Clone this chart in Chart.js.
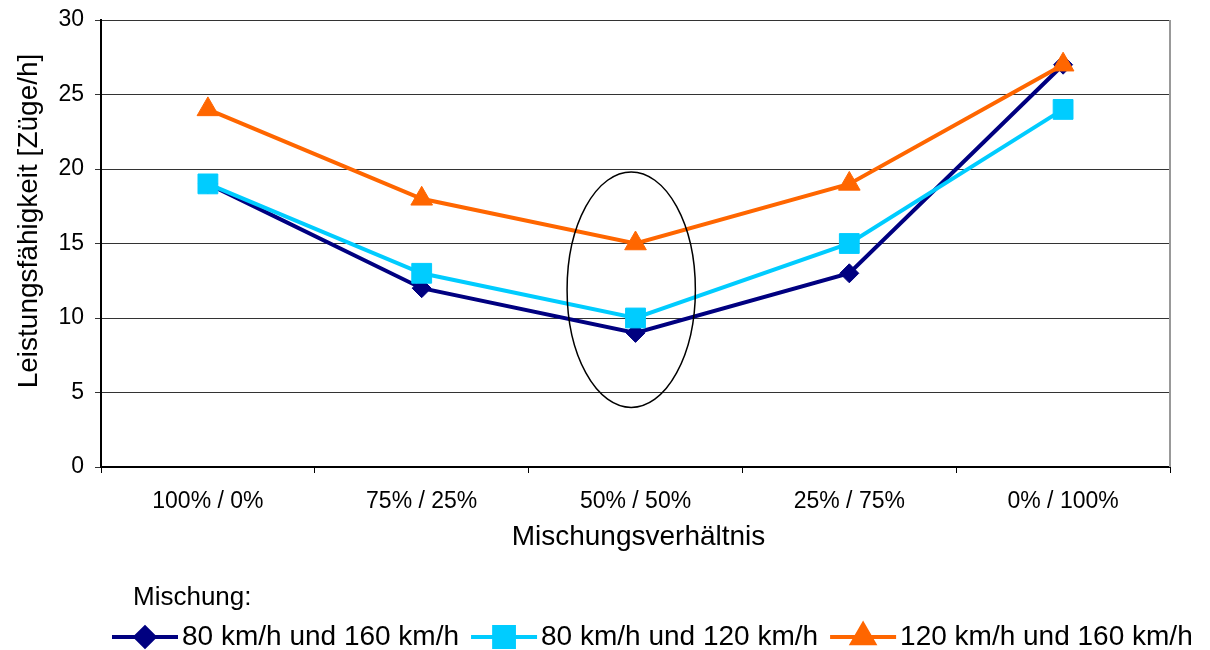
<!DOCTYPE html>
<html>
<head>
<meta charset="utf-8">
<script src="https://cdn.jsdelivr.net/npm/chart.js@4.4.0/dist/chart.umd.min.js"></script>
<style>
	html, body { margin: 0; padding: 0; background: #fff; }
</style>
</head>
<body>
<canvas id="myChart" width="1210" height="650"></canvas>
<script>
var categories = ["100% / 0%", "75% / 25%", "50% / 50%", "25% / 75%", "0% / 100%"];
var seriesLabels = ["80 km/h und 160 km/h", "80 km/h und 120 km/h", "120 km/h und 160 km/h"];
var mix80_160 = [19, 12, 9, 13, 27];
var mix80_120 = [19, 13, 10, 15, 24];
var mix120_160 = [24, 18, 15, 19, 27];
var yMin = 0, yMax = 30, yStep = 5;
var xTitle = "Mischungsverhältnis";
var yTitle = "Leistungsfähigkeit [Züge/h]";
var legendTitle = "Mischung:";
// ellipse around the 50% / 50% group: [category index, value], [half width in categories, half height in values]
var ellipseCenter = [1.98, 11.9];
var ellipseRadius = [0.3, 7.9];

var FONT = "'Liberation Sans', Arial, sans-serif";

var extras = {
	id: 'extras',
	afterDatasetsDraw: function(chart) {
		var ctx = chart.ctx;
		var xs = chart.scales.x, ys = chart.scales.y;
		var area = chart.chartArea;
		ctx.save();
		// right border of plot area
		ctx.strokeStyle = '#999';
		ctx.lineWidth = 2;
		ctx.beginPath();
		ctx.moveTo(area.right, area.top);
		ctx.lineTo(area.right, area.bottom);
		ctx.stroke();
		// ellipse
		var cx = xs.getPixelForValue(ellipseCenter[0]);
		var cy = ys.getPixelForValue(ellipseCenter[1]);
		var catW = xs.getPixelForValue(1) - xs.getPixelForValue(0);
		var rx = ellipseRadius[0] * catW;
		var ry = ys.getPixelForValue(0) - ys.getPixelForValue(ellipseRadius[1]);
		ctx.strokeStyle = '#000';
		ctx.lineWidth = 1.5;
		ctx.beginPath();
		ctx.ellipse(cx, cy, rx, ry, 0, 0, Math.PI * 2);
		ctx.stroke();
		ctx.restore();
	},
	afterDraw: function(chart) {
		var ctx = chart.ctx;
		var area = chart.chartArea;
		ctx.save();
		ctx.fillStyle = '#000';
		// axis titles
		ctx.font = '28px ' + FONT;
		ctx.textAlign = 'center';
		ctx.textBaseline = 'middle';
		ctx.fillText(xTitle, (area.left + area.right) / 2 + 3, 537);
		ctx.save();
		ctx.translate(29, 221);
		ctx.rotate(-Math.PI / 2);
		ctx.fillText(yTitle, 0, 0);
		ctx.restore();
		// legend
		ctx.textAlign = 'left';
		ctx.font = '26px ' + FONT;
		ctx.fillText(legendTitle, 133, 598);
		ctx.font = '28px ' + FONT;
		var x = 112, y = 637;
		chart.data.datasets.forEach(function(ds) {
			ctx.strokeStyle = ds.borderColor;
			ctx.fillStyle = ds.borderColor;
			ctx.lineWidth = 4;
			ctx.beginPath();
			ctx.moveTo(x, y);
			ctx.lineTo(x + 66, y);
			ctx.stroke();
			Chart.helpers.drawPoint(ctx, {
				pointStyle: ds.pointStyle,
				radius: ds.pointRadius,
				rotation: 0,
				borderWidth: 1
			}, x + 33, y);
			ctx.fillStyle = '#000';
			ctx.fillText(ds.label, x + 70, y);
			x += 70 + ctx.measureText(ds.label).width + 12;
		});
		ctx.restore();
	}
};

var ctx = document.getElementById("myChart");
var myChart = new Chart(ctx, {
	type: 'line',
	data: {
		labels: categories,
		datasets: [{
			label: seriesLabels[0],
			data: mix80_160,
			borderColor: '#000080',
			backgroundColor: '#000080',
			borderWidth: 4,
			pointStyle: 'rectRot',
			pointRadius: 9.5,
			pointBorderWidth: 1,
			order: 3
		}, {
			label: seriesLabels[1],
			data: mix80_120,
			borderColor: '#00CCFF',
			backgroundColor: '#00CCFF',
			borderWidth: 4,
			pointStyle: 'rect',
			pointRadius: 14,
			pointBorderWidth: 1,
			order: 2
		}, {
			label: seriesLabels[2],
			data: mix120_160,
			borderColor: '#FF6600',
			backgroundColor: '#FF6600',
			borderWidth: 4,
			pointStyle: 'triangle',
			pointRadius: 12.5,
			pointBorderWidth: 1,
			order: 1
		}]
	},
	options: {
		responsive: false,
		animation: false,
		layout: { padding: { top: 20, right: 40, left: 0, bottom: 0 } },
		plugins: {
			legend: { display: false },
			tooltip: { enabled: false }
		},
		scales: {
			x: {
				offset: true,
				grid: { offset: true, drawOnChartArea: false, drawTicks: true, tickLength: 6, color: '#000', lineWidth: 1 },
				border: { color: '#000', width: 2 },
				ticks: { color: '#000', font: { family: FONT, size: 23 }, padding: 15, maxRotation: 0 },
				afterFit: function(scale) { scale.height = 183; scale.paddingLeft = 0; scale.paddingRight = 0; }
			},
			y: {
				min: yMin,
				max: yMax,
				grid: { color: '#333', lineWidth: 1, tickLength: 6 },
				border: { color: '#000', width: 2 },
				ticks: { stepSize: yStep, color: '#000', font: { family: FONT, size: 23 }, padding: 11 },
				afterFit: function(scale) { scale.width = 101; scale.paddingTop = 0; scale.paddingBottom = 0; }
			}
		}
	},
	plugins: [extras]
});
</script>
</body>
</html>
